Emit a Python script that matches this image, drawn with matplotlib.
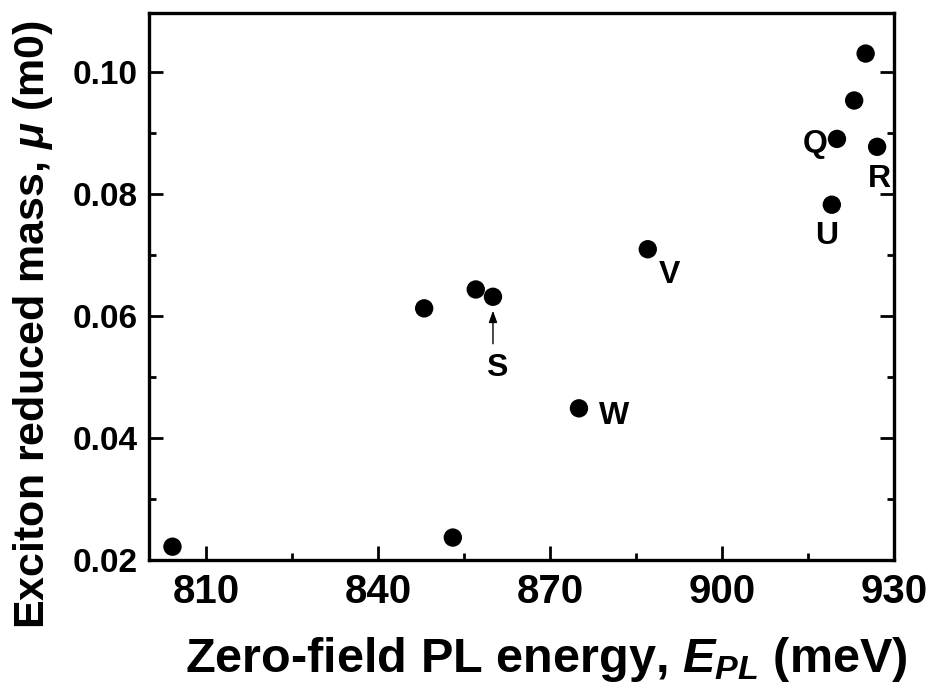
import matplotlib
matplotlib.use("Agg")
import matplotlib.pyplot as plt
from matplotlib.ticker import MultipleLocator

plt.rcParams["font.family"] = ["Liberation Sans", "DejaVu Sans"]
plt.rcParams["font.weight"] = "bold"
plt.rcParams["mathtext.fontset"] = "custom"
plt.rcParams["mathtext.rm"] = "Liberation Sans:bold"
plt.rcParams["mathtext.it"] = "Liberation Sans:bold:italic"
plt.rcParams["mathtext.bf"] = "Liberation Sans:bold"

# Zero-field PL energy (meV) and exciton reduced mass (m0) of each dot
energy = [804.1, 853.0, 848.0, 857.0, 860.0, 875.0, 887.0,
          925.0, 923.0, 920.0, 927.0, 919.1]
mass = [0.0221, 0.0236, 0.0612, 0.0643, 0.0631, 0.0448, 0.0709,
        0.1030, 0.0953, 0.0890, 0.0877, 0.0782]

# Named dots: label, index into the arrays, label offset in pixels
labels = ["S", "W", "V", "Q", "R", "U"]
label_index = [4, 5, 6, 9, 10, 11]
label_offset = [(4, -71), (35, -8), (22, -26), (-22, -5), (2, -32), (-5, -31)]

x_ticks = [810, 840, 870, 900, 930]
y_ticks = [0.02, 0.04, 0.06, 0.08, 0.10]

fig = plt.figure(figsize=(9.34, 6.91), dpi=100)
ax = fig.add_axes([0.1595, 0.1903, 0.798, 0.7913])

ax.scatter(energy, mass, s=175, color="black", edgecolors="none", zorder=3)

for lab, i, (dx, dy) in zip(labels, label_index, label_offset):
    ax.annotate(lab, xy=(energy[i], mass[i]), xytext=(dx, dy),
                textcoords="offset pixels", ha="center", va="center",
                fontsize=23, fontweight="bold")

# Arrow pointing at dot S
iS = label_index[0]
ax.annotate("", xy=(energy[iS], mass[iS]), xytext=(0, -47),
            textcoords="offset pixels",
            arrowprops=dict(arrowstyle="-|>,head_length=0.7,head_width=0.25",
                            color="black", lw=1.0, shrinkA=0, shrinkB=10))

ax.set_xlim(800, 930)
ax.set_ylim(0.02, 0.1097)
ax.set_xticks(x_ticks)
ax.set_yticks(y_ticks)
ax.set_yticklabels([f"{v:.2f}" for v in y_ticks])
ax.xaxis.set_minor_locator(MultipleLocator(15))
ax.yaxis.set_minor_locator(MultipleLocator(0.01))

ax.tick_params(axis="both", which="both", direction="in", width=2,
               top=False, right=True)
ax.tick_params(axis="both", which="major", length=10)
ax.tick_params(axis="both", which="minor", length=5)
ax.tick_params(axis="x", which="major", labelsize=29, pad=10)
ax.tick_params(axis="y", which="major", labelsize=24, pad=8)
for lab in ax.get_xticklabels() + ax.get_yticklabels():
    lab.set_fontweight("bold")

for sp in ax.spines.values():
    sp.set_linewidth(2.4)

fig.text(0.585, 0.045, r"Zero-field PL energy, $E_{PL}$ (meV)",
         ha="center", va="center", fontsize=35, fontweight="bold")
fig.text(0.035, 0.53, r"Exciton reduced mass, $\mu$ (m0)",
         ha="center", va="center", rotation=90, fontsize=31,
         fontweight="bold")

fig.savefig("out.png", dpi=100, facecolor="white")
